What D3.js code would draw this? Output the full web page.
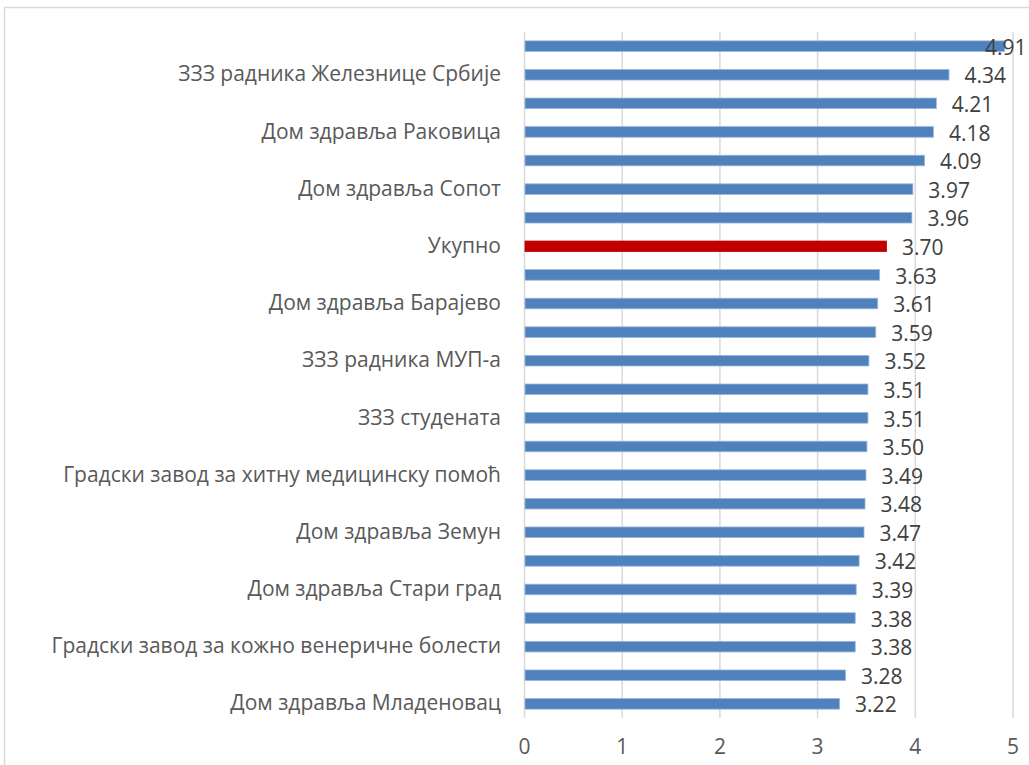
<!DOCTYPE html>
<html>
<head>
<meta charset="utf-8">
<script src="https://cdn.jsdelivr.net/npm/d3@7"></script>
<style>
  body { margin: 0; background: #fff; }
  svg { display: block; font-family: "Open Sans", sans-serif; }
</style>
</head>
<body>
<svg width="1029" height="765"></svg>
<script>
// categories top to bottom; Excel only printed every other label, hidden ones left blank
const categories = [
  "", "ЗЗЗ радника Железнице Србије", "", "Дом здравља Раковица",
  "", "Дом здравља Сопот", "", "Укупно",
  "", "Дом здравља Барајево", "", "ЗЗЗ радника МУП-а",
  "", "ЗЗЗ студената", "", "Градски завод за хитну медицинску помоћ",
  "", "Дом здравља Земун", "", "Дом здравља Стари град",
  "", "Градски завод за кожно венеричне болести", "", "Дом здравља Младеновац"
];
const values = [
  4.91, 4.34, 4.21, 4.18, 4.09, 3.97, 3.96, 3.70,
  3.63, 3.61, 3.59, 3.52, 3.51, 3.51, 3.50, 3.49,
  3.48, 3.47, 3.42, 3.39, 3.38, 3.38, 3.28, 3.22
];
const highlight = "Укупно";
const xTicks = [0, 1, 2, 3, 4, 5];

const data = values.map((v, i) => ({ i, name: categories[i], value: v }));

const svg = d3.select("svg");
const plotLeft = 524.5, plotRight = 1013, plotTop = 32, plotBottom = 718;
const fontSize = "21px";

// chart frame
svg.append("rect")
  .attr("x", 4.5).attr("y", 7.5)
  .attr("width", 1100).attr("height", 900)
  .attr("fill", "none").attr("stroke", "#d9d9d9").attr("stroke-width", 1.5);

const x = d3.scaleLinear().domain([0, 5]).range([plotLeft, plotRight]);
const y = d3.scaleBand().domain(data.map((d) => d.i)).range([plotTop, plotBottom]).paddingInner(0.63).paddingOuter(0.31);

// gridlines
svg.append("g")
  .selectAll("line")
  .data(xTicks)
  .join("line")
  .attr("x1", (d) => x(d)).attr("x2", (d) => x(d))
  .attr("y1", plotTop).attr("y2", plotBottom)
  .attr("stroke", "#d9d9d9").attr("stroke-width", 1.5);

// x tick labels
svg.append("g")
  .selectAll("text")
  .data(xTicks)
  .join("text")
  .attr("x", (d) => x(d))
  .attr("y", 748)
  .attr("text-anchor", "middle")
  .attr("dominant-baseline", "middle")
  .style("font-size", fontSize)
  .style("fill", "#595959")
  .text((d) => d);

// bars
svg.append("g")
  .selectAll("rect")
  .data(data)
  .join("rect")
  .attr("x", x(0) + 0.5)
  .attr("y", (d) => y(d.i))
  .attr("width", (d) => x(d.value) - x(0))
  .attr("height", y.bandwidth())
  .attr("fill", (d) => (d.name === highlight ? "#c00000" : "#4f81bd"))
  .attr("stroke", (d) => (d.name === highlight ? "#c00000" : "#9bb7da"))
  .attr("stroke-width", 0.8);

// value labels
svg.append("g")
  .selectAll("text")
  .data(data)
  .join("text")
  .attr("x", (d) => Math.min(x(d.value) + 16, 985))
  .attr("y", (d) => y(d.i) + y.bandwidth() / 2 + 3)
  .attr("dominant-baseline", "middle")
  .style("font-size", fontSize)
  .style("fill", "#404040")
  .text((d) => d.value.toFixed(2));

// category labels
svg.append("g")
  .selectAll("text")
  .data(data.filter((d) => d.name))
  .join("text")
  .attr("x", 501)
  .attr("y", (d) => y(d.i) + y.bandwidth() / 2 + 1)
  .attr("text-anchor", "end")
  .attr("dominant-baseline", "middle")
  .style("font-size", fontSize)
  .style("fill", "#595959")
  .text((d) => d.name);
</script>
</body>
</html>
